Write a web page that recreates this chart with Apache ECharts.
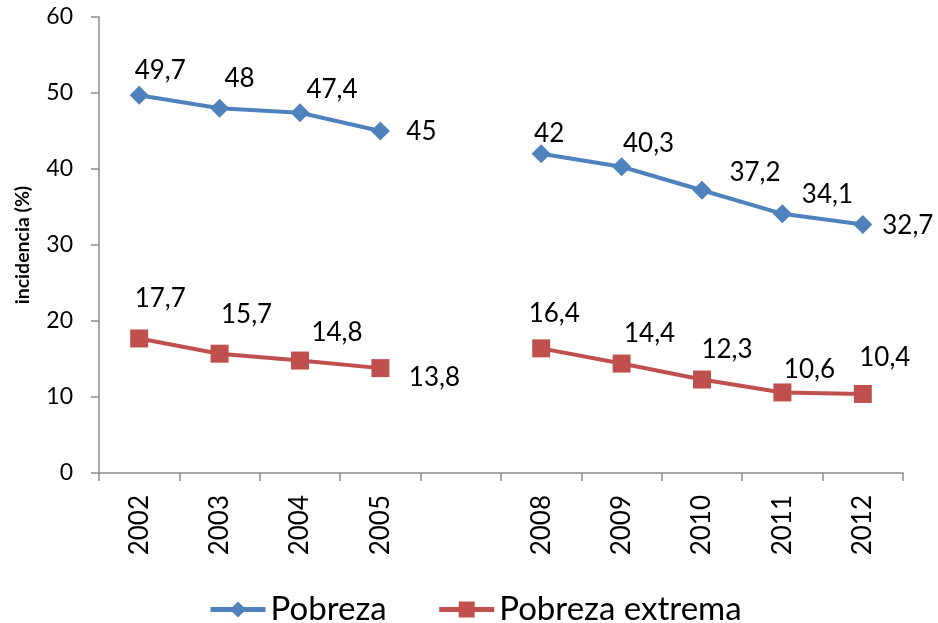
<!DOCTYPE html>
<html>
<head>
<meta charset="utf-8">
<script src="https://cdn.jsdelivr.net/npm/echarts@6/dist/echarts.min.js"></script>
<style>
html,body{margin:0;padding:0;background:#fff;}
#chart{width:938px;height:623px;}
</style>
</head>
<body>
<div id="chart"></div>
<script>
// ---- data ----
var categories = ['2002','2003','2004','2005','','2008','2009','2010','2011','2012'];
var pobreza = [49.7, 48, 47.4, 45, null, 42, 40.3, 37.2, 34.1, 32.7];
var pobrezaExtrema = [17.7, 15.7, 14.8, 13.8, null, 16.4, 14.4, 12.3, 10.6, 10.4];
var seriesNames = ['Pobreza', 'Pobreza extrema'];
var yTicks = {min: 0, max: 60, interval: 10};

// ---- label placement (style only) ----
var pobrezaLabelOffsets = [[21,-25],[20,-30],[32,-23],[41,1],null,[8,-20],[27,-23],[53,-18],[45,-19],[45,1]];
var extremaLabelOffsets = [[21,-40],[27,-39],[37,-28],[54,9],null,[13,-35],[28,-30],[25,-30],[27,-23],[22,-36]];

var FONT = 'Lato';

function buildData(values, offsets) {
  return values.map(function (v, i) {
    if (v === null) return null;
    return {
      value: v,
      label: {show: true, position: 'inside', offset: offsets[i]}
    };
  });
}

var chart = echarts.init(document.getElementById('chart'), null, {renderer: 'canvas'});
var option = {
  animation: false,
  backgroundColor: '#ffffff',
  grid: {left: 99, right: 35, top: 17, bottom: 150, containLabel: false},
  legend: {
    data: seriesNames,
    left: 203,
    top: 588,
    itemWidth: 55,
    itemHeight: 20,
    itemGap: 50,
    lineStyle: {width: 5},
    textStyle: {fontFamily: FONT, fontSize: 33, color: '#000'}
  },
  xAxis: {
    type: 'category',
    data: categories,
    boundaryGap: true,
    axisLine: {lineStyle: {color: '#8c8c8c', width: 1.5}},
    axisTick: {show: true, length: 8, alignWithLabel: false, lineStyle: {color: '#8c8c8c', width: 1.5}},
    axisLabel: {rotate: 90, margin: 22, fontFamily: FONT, fontSize: 26, color: '#000', interval: 0},
    splitLine: {show: false}
  },
  yAxis: {
    type: 'value',
    min: yTicks.min,
    max: yTicks.max,
    interval: yTicks.interval,
    name: 'incidencia (%)',
    nameLocation: 'middle',
    nameRotate: 90,
    nameGap: 66,
    nameTextStyle: {fontFamily: FONT, fontSize: 19.5, fontWeight: 'bold', color: '#000'},
    axisLine: {show: true, lineStyle: {color: '#8c8c8c', width: 1.5}},
    axisTick: {show: true, length: 8, lineStyle: {color: '#8c8c8c', width: 1.5}},
    axisLabel: {margin: 26, fontFamily: FONT, fontSize: 23, color: '#000'},
    splitLine: {show: false}
  },
  series: [
    {
      name: seriesNames[0],
      type: 'line',
      data: buildData(pobreza, pobrezaLabelOffsets),
      connectNulls: false,
      symbol: 'diamond',
      symbolSize: 19,
      itemStyle: {color: '#4F81BD'},
      lineStyle: {color: '#4F81BD', width: 4},
      label: {
        show: true,
        fontFamily: FONT, fontSize: 26, color: '#000',
        align: 'center', verticalAlign: 'middle',
        formatter: function (p) { return String(p.value).replace('.', ','); }
      }
    },
    {
      name: seriesNames[1],
      type: 'line',
      data: buildData(pobrezaExtrema, extremaLabelOffsets),
      connectNulls: false,
      symbol: 'rect',
      symbolSize: 18,
      itemStyle: {color: '#C0504D'},
      lineStyle: {color: '#C0504D', width: 4},
      label: {
        show: true,
        fontFamily: FONT, fontSize: 26, color: '#000',
        align: 'center', verticalAlign: 'middle',
        formatter: function (p) { return String(p.value).replace('.', ','); }
      }
    }
  ]
};
chart.setOption(option);
</script>
</body>
</html>
